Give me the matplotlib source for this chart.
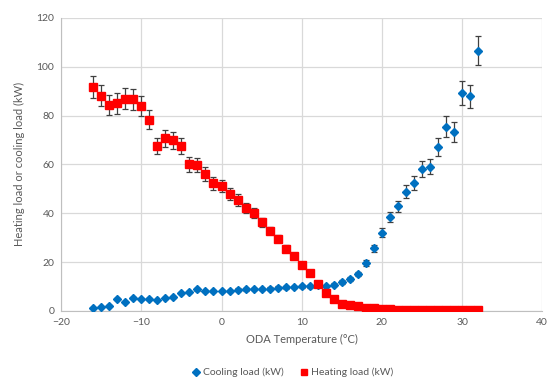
import matplotlib.pyplot as plt

# ODA temperature (°C)
temps = list(range(-16, 33))

cooling = [1.1, 1.5, 2.2, 4.8, 3.7, 5.4, 5.0, 4.8, 4.3, 5.3, 5.7, 7.2, 7.8, 8.8, 8.1, 8.1, 8.0,
           8.1, 8.7, 8.8, 8.9, 8.9, 9.1, 9.5, 9.6, 9.8, 10.0, 10.0, 10.6, 10.2, 10.7, 11.8, 13.1,
           15.0, 19.6, 25.7, 32.0, 38.5, 42.8, 48.9, 52.3, 58.0, 59.1, 67.2, 75.5, 73.2, 89.1,
           87.9, 106.5]
cooling_err = [0.1, 0.1, 0.1, 0.3, 0.2, 0.3, 0.3, 0.3, 0.2, 0.3, 0.3, 0.4, 0.4, 0.5, 0.4, 0.4, 0.4,
               0.4, 0.5, 0.5, 0.5, 0.5, 0.5, 0.5, 0.5, 0.5, 0.6, 0.6, 0.6, 0.6, 0.6, 0.7, 0.7,
               0.8, 1.1, 1.4, 1.8, 2.1, 2.4, 2.7, 2.9, 3.2, 3.2, 3.7, 4.2, 4.0, 4.9,
               4.8, 5.9]

heating = [91.6, 88.2, 84.4, 85.1, 86.9, 86.7, 84.0, 78.3, 67.5, 70.7, 69.9, 67.5, 60.0, 59.8,
           56.1, 52.3, 51.2, 47.8, 45.4, 42.0, 40.1, 36.3, 32.9, 29.6, 25.5, 22.6, 18.7, 15.7,
           11.2, 7.2, 5.0, 3.0, 2.4, 2.0, 1.1, 1.0, 0.7, 0.6, 0.4, 0.4, 0.3, 0.3, 0.3, 0.3, 0.3,
           0.3, 0.3, 0.3, 0.3]
heating_err = [4.6, 4.4, 4.2, 4.3, 4.3, 4.3, 4.2, 3.9, 3.4, 3.5, 3.5, 3.4, 3.0, 3.0,
               2.8, 2.6, 2.6, 2.4, 2.3, 2.1, 2.0, 1.8, 1.6, 1.5, 1.3, 1.1, 0.9, 0.8,
               0.6, 0.4, 0.3, 0.2, 0.1, 0.1, 0.1, 0.1, 0.0, 0.0, 0.0, 0.0, 0.0, 0.0, 0.0, 0.0, 0.0,
               0.0, 0.0, 0.0, 0.0]

plt.rcParams['font.family'] = ['Lato', 'DejaVu Sans']
txt = '#595959'

fig = plt.figure(figsize=(5.51, 3.81), dpi=100)
ax = fig.add_axes([0.111, 0.184, 0.873, 0.769])

ax.errorbar(temps, cooling, yerr=cooling_err, fmt='D', color='#0070C0', ms=4.3,
            ecolor='#404040', elinewidth=0.9, capsize=2.5, capthick=0.9,
            label='Cooling load (kW)', zorder=3)
ax.errorbar(temps, heating, yerr=heating_err, fmt='s', color='#FF0000', ms=5.2,
            ecolor='#404040', elinewidth=0.9, capsize=2.5, capthick=0.9,
            label='Heating load (kW)', zorder=4)

ax.set_xlim(-20, 40)
ax.set_ylim(0, 120)
ax.set_xticks(range(-20, 41, 10))
ax.set_yticks(range(0, 121, 20))
ax.grid(True, color='#d9d9d9', linewidth=0.9)
ax.set_axisbelow(True)
for s in ['top', 'right']:
    ax.spines[s].set_visible(False)
for s in ['left', 'bottom']:
    ax.spines[s].set_color('#bfbfbf')
ax.tick_params(length=0, labelsize=7.5, colors=txt, pad=5)

ax.set_xlabel('ODA Temperature (°C)', fontsize=8, color=txt, labelpad=5)
ax.set_ylabel('Heating load or cooling load (kW)', fontsize=8, color=txt, labelpad=8)

handles, labels = ax.get_legend_handles_labels()
handles = [h[0] for h in handles]
fig.legend(handles, labels, loc='lower center', bbox_to_anchor=(0.53, -0.015), ncol=2,
           frameon=False, fontsize=7.5, labelcolor=txt, handletextpad=0.1,
           handlelength=1.0, columnspacing=1.5, markerscale=0.9)

plt.savefig('out.png', dpi=100)
